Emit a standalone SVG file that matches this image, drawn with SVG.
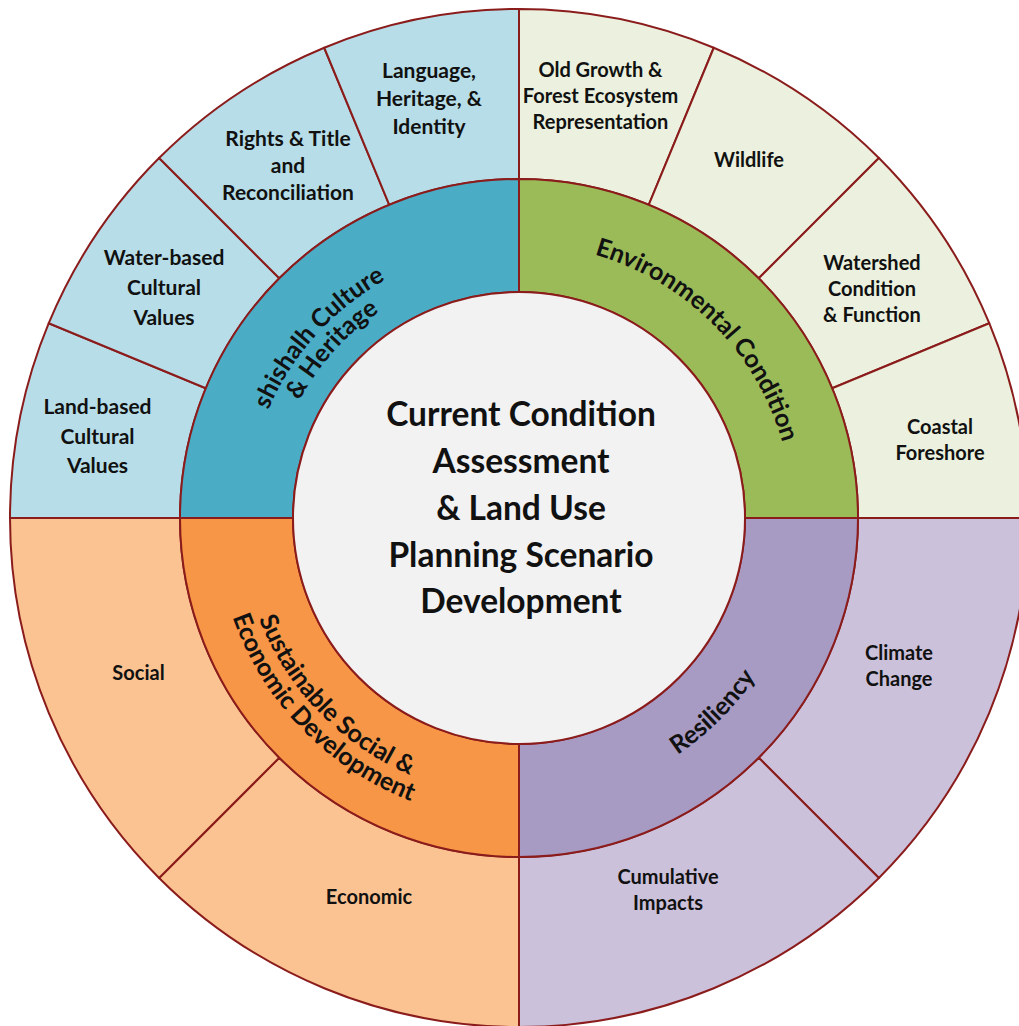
<svg xmlns="http://www.w3.org/2000/svg" width="1019" height="1026" viewBox="0 0 1019 1026">
<defs>
<style>
.sg{stroke:#8B1C1C;stroke-width:2;stroke-linejoin:round}
.t{font-family:Lato,"Open Sans","Liberation Sans",sans-serif;font-weight:bold;fill:#111;text-anchor:middle}
.a{font-size:20px}
.b{font-size:21px}
.c{font-size:25px}
.m{font-size:33.5px}
.tl-o{fill:#B7DEE8}.tl-m{fill:#4BACC6}
.tr-o{fill:#EBF1DE}.tr-m{fill:#9BBB59}
.br-o{fill:#CCC1DA}.br-m{fill:#A79AC3}
.bl-o{fill:#FAC391}.bl-m{fill:#F79646}
</style>
<path id="pShi1" d="M 246 518 A 273 273 0 0 1 519 245"/>
<path id="pShi2" d="M 270 518 A 249 249 0 0 1 519 269"/>
<path id="pEnv" d="M 519 244 A 274 274 0 0 1 793 518"/>
<path id="pRes" d="M 519 803 A 285 285 0 0 0 804 518"/>
<path id="pSus1" d="M 240 518 A 279 279 0 0 0 519 797"/>
<path id="pSus2" d="M 216 518 A 303 303 0 0 0 519 821"/>
</defs>
<rect width="1019" height="1026" fill="#FFFFFF"/>

<!-- outer ring segments -->
<g id="land-based">
<path class="sg tl-o" d="M 10 518 A 509 509 0 0 1 48.75 323.22 L 205.8 388.27 A 339 339 0 0 0 180 518 Z"/>
<text class="t b" x="97.5" y="414">Land-based</text>
<text class="t b" x="97.5" y="443.5">Cultural</text>
<text class="t b" x="97.5" y="473">Values</text>
</g>
<g id="water-based">
<path class="sg tl-o" d="M 48.75 323.22 A 509 509 0 0 1 159.08 158.08 L 279.29 278.29 A 339 339 0 0 0 205.8 388.27 Z"/>
<text class="t b" x="164" y="264.5">Water-based</text>
<text class="t b" x="164" y="294.5">Cultural</text>
<text class="t b" x="164" y="324.5">Values</text>
</g>
<g id="rights-title">
<path class="sg tl-o" d="M 159.08 158.08 A 509 509 0 0 1 324.22 47.75 L 389.27 204.8 A 339 339 0 0 0 279.29 278.29 Z"/>
<text class="t b" x="288" y="145.5">Rights &amp; Title</text>
<text class="t b" x="288" y="172.5">and</text>
<text class="t b" x="288" y="200">Reconciliation</text>
</g>
<g id="language">
<path class="sg tl-o" d="M 324.22 47.75 A 509 509 0 0 1 519 9 L 519 179 A 339 339 0 0 0 389.27 204.8 Z"/>
<text class="t b" x="429" y="78">Language,</text>
<text class="t b" x="429" y="106">Heritage, &amp;</text>
<text class="t b" x="429" y="134">Identity</text>
</g>
<g id="old-growth">
<path class="sg tr-o" d="M 519 9 A 509 509 0 0 1 713.78 47.75 L 648.73 204.8 A 339 339 0 0 0 519 179 Z"/>
<text class="t a" x="600.5" y="76.5">Old Growth &amp;</text>
<text class="t a" x="600.5" y="102.5">Forest Ecosystem</text>
<text class="t a" x="600.5" y="128.5">Representation</text>
</g>
<g id="wildlife">
<path class="sg tr-o" d="M 713.78 47.75 A 509 509 0 0 1 878.92 158.08 L 758.71 278.29 A 339 339 0 0 0 648.73 204.8 Z"/>
<text class="t a" x="749" y="167">Wildlife</text>
</g>
<g id="watershed">
<path class="sg tr-o" d="M 878.92 158.08 A 509 509 0 0 1 989.25 323.22 L 832.2 388.27 A 339 339 0 0 0 758.71 278.29 Z"/>
<text class="t a" x="872" y="269.5">Watershed</text>
<text class="t a" x="872" y="295.5">Condition</text>
<text class="t a" x="872" y="321.5">&amp; Function</text>
</g>
<g id="coastal">
<path class="sg tr-o" d="M 989.25 323.22 A 509 509 0 0 1 1028 518 L 858 518 A 339 339 0 0 0 832.2 388.27 Z"/>
<text class="t a" x="940" y="434">Coastal</text>
<text class="t a" x="940" y="460">Foreshore</text>
</g>
<g id="climate-change">
<path class="sg br-o" d="M 1028 518 A 509 509 0 0 1 878.92 877.92 L 758.71 757.71 A 339 339 0 0 0 858 518 Z"/>
<text class="t a" x="899" y="660">Climate</text>
<text class="t a" x="899" y="686">Change</text>
</g>
<g id="cumulative-impacts">
<path class="sg br-o" d="M 878.92 877.92 A 509 509 0 0 1 519 1027 L 519 857 A 339 339 0 0 0 758.71 757.71 Z"/>
<text class="t a" x="668" y="883.5">Cumulative</text>
<text class="t a" x="668" y="909.5">Impacts</text>
</g>
<g id="economic">
<path class="sg bl-o" d="M 519 1027 A 509 509 0 0 1 159.08 877.92 L 279.29 757.71 A 339 339 0 0 0 519 857 Z"/>
<text class="t a" x="369" y="903.5">Economic</text>
</g>
<g id="social">
<path class="sg bl-o" d="M 159.08 877.92 A 509 509 0 0 1 10 518 L 180 518 A 339 339 0 0 0 279.29 757.71 Z"/>
<text class="t a" x="138.5" y="679.5">Social</text>
</g>

<!-- middle ring -->
<g id="shishalh-culture">
<path class="sg tl-m" d="M 180 518 A 339 339 0 0 1 519 179 L 519 292 A 226 226 0 0 0 293 518 Z"/>
<text class="t c"><textPath href="#pShi1" startOffset="46.7%">shishalh Culture</textPath></text>
<text class="t c"><textPath href="#pShi2" startOffset="46.7%">&amp; Heritage</textPath></text>
</g>
<g id="environmental-condition">
<path class="sg tr-m" d="M 519 179 A 339 339 0 0 1 858 518 L 745 518 A 226 226 0 0 0 519 292 Z"/>
<text class="t c"><textPath href="#pEnv" startOffset="50%">Environmental Condition</textPath></text>
</g>
<g id="resiliency">
<path class="sg br-m" d="M 858 518 A 339 339 0 0 1 519 857 L 519 744 A 226 226 0 0 0 745 518 Z"/>
<text class="t c"><textPath href="#pRes" startOffset="50%">Resiliency</textPath></text>
</g>
<g id="sustainable-development">
<path class="sg bl-m" d="M 519 857 A 339 339 0 0 1 180 518 L 293 518 A 226 226 0 0 0 519 744 Z"/>
<text class="t c"><textPath href="#pSus1" startOffset="49%">Sustainable Social &amp;</textPath></text>
<text class="t c"><textPath href="#pSus2" startOffset="49%">Economic Development</textPath></text>
</g>

<!-- center -->
<g id="center">
<circle class="sg" cx="519" cy="518" r="226" fill="#F2F2F2"/>
<text class="t m" x="521" y="426">Current Condition</text>
<text class="t m" x="521" y="473">Assessment</text>
<text class="t m" x="521" y="520">&amp; Land Use</text>
<text class="t m" x="521" y="567">Planning Scenario</text>
<text class="t m" x="521" y="613">Development</text>
</g>

<g id="connectors"></g>
</svg>
